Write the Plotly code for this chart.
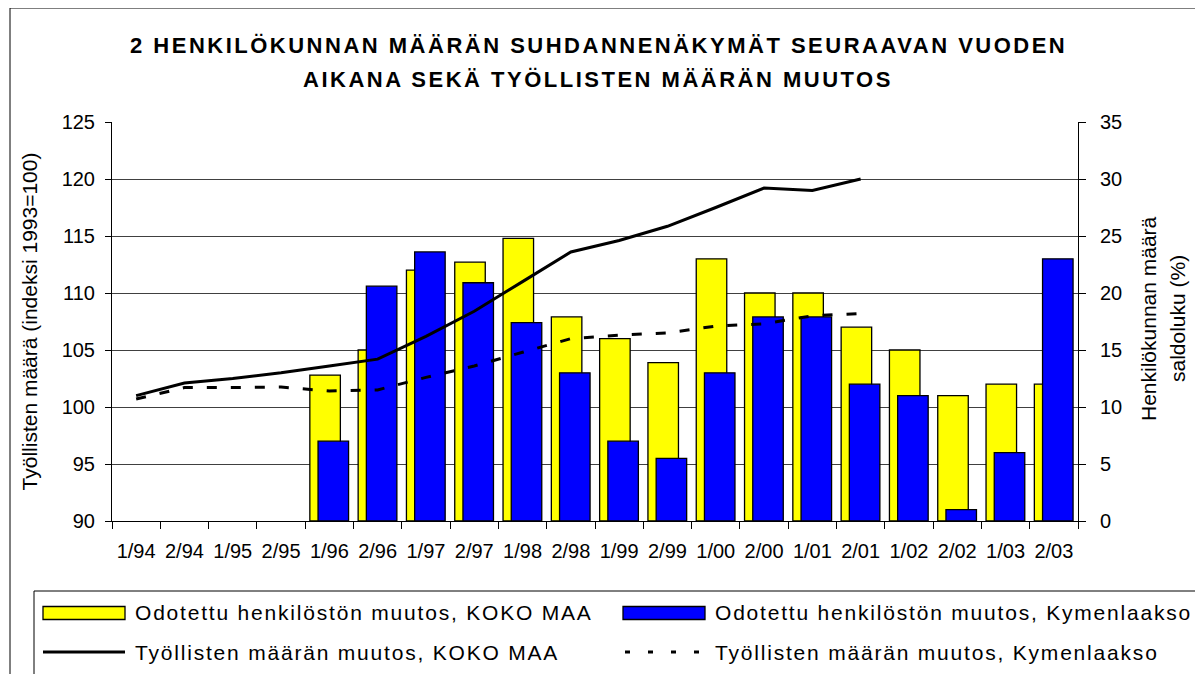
import plotly.graph_objects as go

# ---------------- data ----------------
categories = ["1/94", "2/94", "1/95", "2/95", "1/96", "2/96", "1/97", "2/97", "1/98", "2/98",
              "1/99", "2/99", "1/00", "2/00", "1/01", "2/01", "1/02", "2/02", "1/03", "2/03"]

# Odotettu henkilöstön muutos (saldoluku %, right axis)
bars_koko_maa = [None, None, None, None, 12.8, 15.0, 22.0, 22.7, 24.8, 17.9,
                 16.0, 13.9, 23.0, 20.0, 20.0, 17.0, 15.0, 11.0, 12.0, 12.0]
bars_kymenlaakso = [None, None, None, None, 7.0, 20.6, 23.6, 20.9, 17.4, 13.0,
                    7.0, 5.5, 13.0, 17.9, 17.9, 12.0, 11.0, 1.0, 6.0, 23.0]

# Työllisten määrä (indeksi 1993=100, left axis)
line_koko_maa = [101.0, 102.1, 102.5, 103.0, 103.6, 104.2, 106.2, 108.4, 111.0, 113.6,
                 114.6, 115.85, 117.5, 119.2, 119.0, 120.0, None, None, None, None]
line_kymenlaakso = [100.7, 101.7, 101.7, 101.75, 101.4, 101.5, 102.6, 103.6, 104.8, 106.0,
                    106.3, 106.5, 107.1, 107.3, 108.0, 108.2, None, None, None, None]

legend_labels = ["Odotettu henkilöstön muutos, KOKO MAA",
                 "Odotettu henkilöstön muutos, Kymenlaakso",
                 "Työllisten määrän muutos, KOKO MAA",
                 "Työllisten määrän muutos, Kymenlaakso"]
title_lines = ["2 HENKILÖKUNNAN MÄÄRÄN SUHDANNENÄKYMÄT SEURAAVAN VUODEN",
               "AIKANA SEKÄ TYÖLLISTEN MÄÄRÄN MUUTOS"]
left_title = "Työllisten määrä (indeksi 1993=100)"
right_title_lines = ["Henkilökunnan määrä", "saldoluku (%)"]

# ---------------- layout geometry ----------------
OFF = 8                      # page body margin of the browser
W, H = 1203 - OFF, 674 - OFF  # figure size
PL, PR, PT, PB = 112, 1078, 122, 521  # plot area in page pixels
FONT = "Liberation Sans, Arial, sans-serif"
YELLOW = "#FFFF00"
BLUE = "#0000FF"


def fx(px):
    return (px - PL) / (PR - PL)


def fy(py):
    return (PB - py) / (PB - PT)


def spaced(text, ls):
    return f"<span style='letter-spacing:{ls}px'>{text}</span>"


fig = go.Figure()

fig.add_trace(go.Bar(
    x=categories, y=bars_koko_maa, name=legend_labels[0], yaxis="y",
    width=0.632, offset=-0.404,
    marker=dict(color=YELLOW, line=dict(color="black", width=1.3)),
    showlegend=False))
fig.add_trace(go.Bar(
    x=categories, y=bars_kymenlaakso, name=legend_labels[1], yaxis="y",
    width=0.632, offset=-0.234,
    marker=dict(color=BLUE, line=dict(color="black", width=1.3)),
    showlegend=False))
fig.add_trace(go.Scatter(
    x=categories, y=line_koko_maa, name=legend_labels[2], yaxis="y2",
    mode="lines", line=dict(color="black", width=3), showlegend=False))
fig.add_trace(go.Scatter(
    x=categories, y=line_kymenlaakso, name=legend_labels[3], yaxis="y2",
    mode="lines", line=dict(color="black", width=3, dash="10px,14px"), showlegend=False))

shapes = []
# outer chart border
shapes.append(dict(type="rect", xref="paper", yref="paper",
                   x0=fx(10), x1=fx(1196), y0=fy(8), y1=fy(720),
                   line=dict(color="black", width=1), fillcolor="rgba(0,0,0,0)", layer="below"))
# legend box
shapes.append(dict(type="rect", xref="paper", yref="paper",
                   x0=fx(34), x1=fx(1196), y0=fy(591), y1=fy(720),
                   line=dict(color="black", width=1), fillcolor="rgba(0,0,0,0)"))
# legend symbols
shapes.append(dict(type="rect", xref="paper", yref="paper",
                   x0=fx(43), x1=fx(125), y0=fy(606.5), y1=fy(619.5),
                   line=dict(color="black", width=1.3), fillcolor=YELLOW))
shapes.append(dict(type="rect", xref="paper", yref="paper",
                   x0=fx(623), x1=fx(705), y0=fy(606.5), y1=fy(619.5),
                   line=dict(color="black", width=1.3), fillcolor=BLUE))
shapes.append(dict(type="line", xref="paper", yref="paper",
                   x0=fx(43), x1=fx(125), y0=fy(652), y1=fy(652),
                   line=dict(color="black", width=3)))
shapes.append(dict(type="line", xref="paper", yref="paper",
                   x0=fx(625), x1=fx(705), y0=fy(652), y1=fy(652),
                   line=dict(color="black", width=3, dash="5px,18px")))

annotations = []
annotations.append(dict(xref="paper", yref="paper", x=fx(598), y=fy(45),
                        text=spaced(title_lines[0], 2.5), showarrow=False,
                        xanchor="center", yanchor="middle",
                        font=dict(family=FONT, size=22, color="black", weight="bold")))
annotations.append(dict(xref="paper", yref="paper", x=fx(598), y=fy(80),
                        text=spaced(title_lines[1], 2.5), showarrow=False,
                        xanchor="center", yanchor="middle",
                        font=dict(family=FONT, size=22, color="black", weight="bold")))
legend_pos = [(133, 612), (713, 612), (133, 652), (713, 652)]
for lab, (lx, ly) in zip(legend_labels, legend_pos):
    annotations.append(dict(xref="paper", yref="paper", x=fx(lx), y=fy(ly),
                            text=spaced(lab, 1.8), showarrow=False,
                            xanchor="left", yanchor="middle",
                            font=dict(family=FONT, size=21, color="black")))
# right axis title (two rotated lines)
for txt, cx in zip(right_title_lines, (1148, 1177)):
    annotations.append(dict(xref="paper", yref="paper", x=fx(cx), y=fy(319),
                            text=txt, showarrow=False, textangle=-90,
                            xanchor="center", yanchor="middle",
                            font=dict(family=FONT, size=21, color="black")))

fig.update_layout(
    width=W, height=H, autosize=False,
    margin=dict(l=PL - OFF, r=W - (PR - OFF), t=PT - OFF, b=H - (PB - OFF), pad=0),
    paper_bgcolor="white", plot_bgcolor="white",
    barmode="overlay",
    font=dict(family=FONT, size=20, color="black"),
    showlegend=False,
    shapes=shapes,
    annotations=annotations,
    xaxis=dict(
        type="category", categoryorder="array", categoryarray=categories,
        range=[-0.5, len(categories) - 0.5],
        tickson="boundaries", ticks="outside", ticklen=7, tickcolor="black", tickwidth=1,
        showline=True, linecolor="black", linewidth=1, showgrid=False,
        tickfont=dict(family=FONT, size=20, color="black"),
        ticklabelstandoff=12, automargin=False,
    ),
    yaxis=dict(
        side="right", range=[0, 35], dtick=5, tick0=0,
        ticks="outside", ticklen=7, tickcolor="black", tickwidth=1,
        showline=True, linecolor="black", linewidth=1,
        showgrid=True, gridcolor="#404040", gridwidth=1, zeroline=False,
        tickfont=dict(family=FONT, size=20, color="black"),
        ticklabelstandoff=10,
        automargin=False,
    ),
    yaxis2=dict(
        overlaying="y", side="left", range=[90, 125], dtick=5, tick0=90,
        ticks="outside", ticklen=6, tickcolor="black", tickwidth=1,
        showline=True, linecolor="black", linewidth=1,
        showgrid=False, zeroline=False,
        tickfont=dict(family=FONT, size=20, color="black"),
        ticklabelstandoff=6,
        title=dict(text=left_title, font=dict(family=FONT, size=21, color="black"), standoff=18),
        automargin=False,
    ),
)

fig.write_html("out.html")
